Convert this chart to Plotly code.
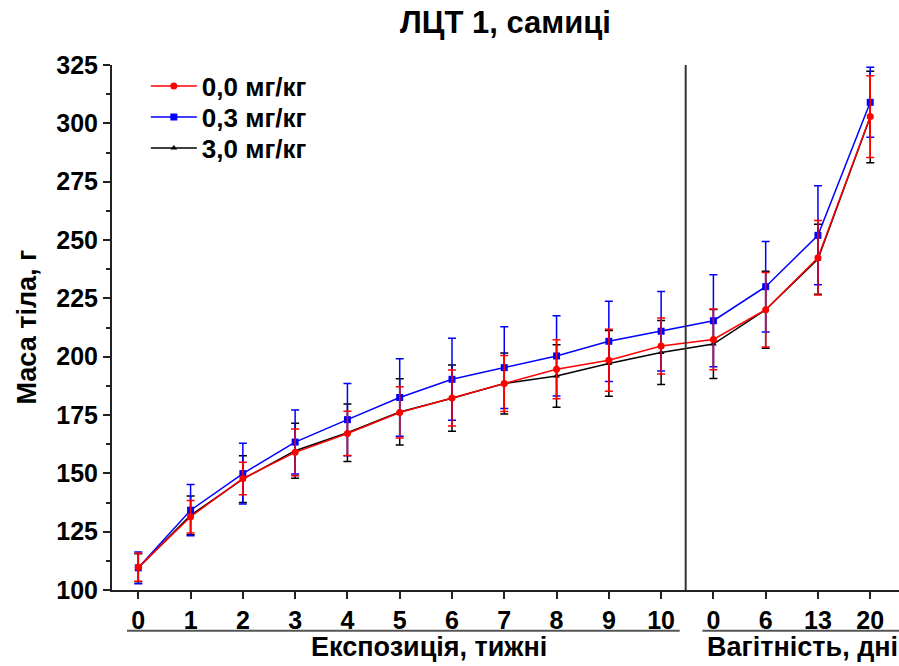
import plotly.graph_objects as go

# Data
x_pos = list(range(15))
tick_text = ["0", "1", "2", "3", "4", "5", "6", "7", "8", "9", "10", "0", "6", "13", "20"]

mean_00 = [109.7, 131.4, 147.8, 159.0, 167.1, 176.1, 182.3, 188.5, 194.6, 198.5, 204.6, 207.4, 220.1, 242.4, 302.9]
sd_00   = [6.0, 7.0, 7.0, 10.0, 9.5, 11.0, 12.0, 12.0, 12.6, 13.3, 12.0, 13.0, 16.0, 16.0, 17.5]

mean_03 = [109.5, 134.2, 149.9, 163.4, 173.0, 182.5, 190.3, 195.3, 200.3, 206.6, 210.9, 215.4, 230.0, 252.0, 309.0]
sd_03   = [6.8, 11.0, 13.0, 13.7, 15.5, 16.6, 17.6, 17.5, 17.2, 17.2, 17.0, 19.7, 19.4, 21.2, 15.0]

mean_30 = [109.5, 132.0, 147.5, 159.7, 167.4, 176.3, 182.2, 188.5, 191.7, 197.1, 201.8, 205.4, 220.1, 241.8, 302.7]
sd_30   = [6.0, 8.3, 10.0, 11.8, 12.3, 14.2, 14.2, 13.1, 13.4, 14.1, 13.7, 14.8, 16.5, 15.0, 19.6]

series_names = ["0,0 мг/кг", "0,3 мг/кг", "3,0 мг/кг"]
title_text = "ЛЦТ 1, самиці"
y_title = "Маса тіла, г"
group_left = "Експозиція, тижні"
group_right = "Вагітність, дні"

FONT = "Liberation Sans, Arial, sans-serif"

fig = go.Figure()

def add_series(name, y, sd, color, symbol, size, legend):
    fig.add_trace(go.Scatter(
        x=x_pos, y=y, name=name, mode="lines+markers", legend=legend,
        line=dict(color=color, width=1.5),
        marker=dict(color=color, symbol=symbol, size=size),
        error_y=dict(type="data", array=sd, visible=True, color=color,
                     thickness=1.5, width=4),
    ))

add_series(series_names[2], mean_30, sd_30, "#000000", "triangle-up", 6, "legend3")
add_series(series_names[1], mean_03, sd_03, "#0000FF", "square", 7, "legend2")
add_series(series_names[0], mean_00, sd_00, "#FF0000", "circle", 7, "legend")

# separator line between phases
fig.add_shape(type="line", xref="x", yref="y", x0=10.47, x1=10.47, y0=100, y1=325,
              line=dict(color="#333333", width=2))
# group underlines
fig.add_shape(type="line", xref="x", yref="paper", x0=-0.216, x1=10.356, y0=-0.0775, y1=-0.0775,
              line=dict(color="#555555", width=2))
fig.add_shape(type="line", xref="x", yref="paper", x0=10.79, x1=14.6, y0=-0.0775, y1=-0.0775,
              line=dict(color="#555555", width=2))

fig.add_annotation(text=group_left, xref="x", yref="paper", x=5.56, y=-0.108,
                   xanchor="center", yanchor="middle", showarrow=False,
                   font=dict(size=27, color="black", family=FONT, weight="bold"))
fig.add_annotation(text=group_right, xref="x", yref="paper", x=12.7, y=-0.108,
                   xanchor="center", yanchor="middle", showarrow=False,
                   font=dict(size=27, color="black", family=FONT, weight="bold"))
fig.add_annotation(text=y_title, xref="paper", yref="paper", x=-(112 - 26) / 787, y=0.5,
                   xanchor="center", yanchor="middle", textangle=-90, showarrow=False,
                   font=dict(size=27, color="black", family=FONT, weight="bold"))

def legend_at(row_px):
    return dict(x=0.043, y=(590 - row_px) / 525, xanchor="left", yanchor="middle",
                bgcolor="rgba(0,0,0,0)", font=dict(size=26, family=FONT, weight="bold"),
                itemwidth=46)

fig.update_layout(
    width=899, height=666,
    margin=dict(l=112, r=0, t=65, b=76),
    paper_bgcolor="white", plot_bgcolor="white",
    font=dict(family=FONT, size=25, color="black", weight="bold"),
    title=dict(text=title_text, x=0.5, xref="paper", y=1 - 22 / 666, yref="container",
               xanchor="center", yanchor="middle",
               font=dict(size=31, family=FONT, color="black", weight="bold")),
    showlegend=True,
    legend=legend_at(86),
    legend2=legend_at(117),
    legend3=legend_at(148),
    xaxis=dict(range=[-0.503, 14.55], tickmode="array", tickvals=x_pos, ticktext=tick_text,
               showgrid=False, zeroline=False, showline=True, linecolor="#222222", linewidth=2,
               ticks="outside", ticklen=7, tickwidth=1.5, tickcolor="#222222"),
    yaxis=dict(range=[100, 325], tickmode="linear", tick0=100, dtick=25,
               showgrid=False, zeroline=False, showline=True, linecolor="#222222", linewidth=2,
               ticks="outside", ticklen=7, tickwidth=1.5, tickcolor="#222222",
               minor=dict(dtick=12.5, ticks="outside", ticklen=4, tickwidth=1.5, tickcolor="#222222")),
)

fig.write_html("out.html")
